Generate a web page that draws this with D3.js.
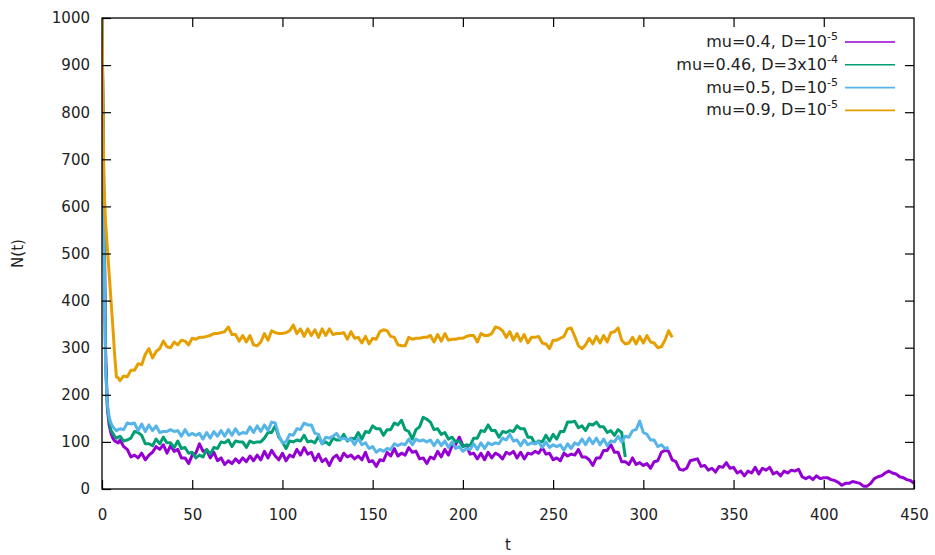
<!DOCTYPE html>
<html>
<head>
<meta charset="utf-8">
<script src="https://cdn.jsdelivr.net/npm/d3@7"></script>
<style>
  body { margin: 0; background: #fff; }
  svg { font-family: 'DejaVu Sans', sans-serif; }
</style>
</head>
<body>
<svg id="chart"></svg>
<script>
// sampling: t = 0..9 step 1 (head), then from t = 10 step 2 (body)
const headT = [0, 1, 2, 3, 4, 5, 6, 7, 8, 9];
const bodyStart = 10;
const bodyStep = 2;

const xTicks = [0, 50, 100, 150, 200, 250, 300, 350, 400, 450];
const yTicks = [0, 100, 200, 300, 400, 500, 600, 700, 800, 900, 1000];

const purpleHead = [1000, 640, 290, 170, 135, 118, 108, 102, 100, 98];
const purpleBody = [
  104,90,84,68,72,66,76,62,72,78,
  90,84,94,76,92,80,84,66,66,54,
  72,76,96,80,82,66,78,60,66,52,
  60,54,64,56,66,58,70,60,72,62,
  80,66,82,70,62,76,60,72,68,84,
  72,88,74,78,60,74,58,64,50,66,
  72,60,76,68,72,64,70,62,78,58,
  60,48,62,60,78,70,86,70,76,72,
  88,78,80,64,66,54,68,64,80,68,
  84,72,92,94,110,92,92,74,76,64,
  76,62,78,66,76,72,64,78,74,80,
  66,78,64,76,74,80,76,88,74,76,
  62,66,60,76,70,74,72,84,68,68,
  62,50,66,66,82,82,94,78,78,58,
  58,52,66,52,56,50,54,44,58,60,
  78,82,80,62,58,42,40,44,60,62,
  64,48,50,40,44,36,48,46,56,44,
  46,34,38,28,38,34,46,32,44,40,
  46,32,36,28,38,34,40,38,42,26,
  22,26,20,28,22,24,24,20,18,14,
  8,12,12,16,14,12,6,6,12,22,
  26,28,34,38,34,32,26,24,20,18,
  12
];

const greenHead = [1000, 600, 270, 175, 145, 125, 118, 112, 108, 110];
const greenBody = [
  112,102,104,108,122,120,114,96,96,92,
  106,96,110,98,98,88,102,86,88,76,
  78,66,72,68,84,74,88,86,100,98,
  104,90,102,100,100,88,102,98,100,100,
  108,120,120,134,110,100,86,102,100,104,
  102,114,100,102,98,112,96,100,94,108,
  104,104,116,102,108,106,120,106,122,120,
  134,128,128,114,126,126,140,136,146,126,
  122,106,126,132,152,148,142,126,128,116,
  120,106,110,100,102,90,94,92,108,108,
  124,122,136,124,124,110,122,120,124,122,
  134,128,128,110,110,96,102,100,114,102,
  116,106,122,122,142,142,144,130,134,124,
  138,136,142,132,132,120,124,114,126,120,
  68
];

const blueHead = [1000, 560, 250, 180, 152, 140, 132, 128, 124, 126];
const blueBody = [
  128,126,140,138,140,124,138,122,136,124,
  134,120,122,122,126,122,124,112,126,114,
  118,114,118,106,120,108,122,112,124,112,
  126,114,128,116,120,118,132,120,134,122,
  136,124,142,140,114,98,100,116,114,128,
  126,140,136,136,118,116,96,110,108,112,
  118,106,108,104,106,94,108,94,98,86,
  90,78,84,80,86,84,96,92,96,94,
  106,94,106,102,104,100,104,92,104,92,
  102,88,100,86,90,80,86,84,96,84,
  98,86,98,94,98,96,108,104,116,102,
  104,92,104,94,98,96,100,88,100,88,
  94,90,94,82,96,86,98,94,106,94,
  108,96,108,94,106,92,102,100,112,100,
  112,110,124,126,144,120,116,104,104,90,
  94,86,88
];

const orangeHead = [1000, 650, 565, 510, 455, 400, 345, 285, 238, 236];
const orangeBody = [
  230,240,238,252,252,266,264,286,298,278,
  292,298,314,302,300,312,306,316,314,306,
  320,318,322,322,324,326,330,330,332,334,
  344,328,328,314,326,312,326,306,304,312,
  330,316,336,332,330,330,332,336,348,330,
  340,324,340,326,338,322,340,326,340,328,
  330,330,332,318,334,320,322,310,324,308,
  320,318,334,338,336,324,322,306,304,304,
  322,318,320,320,322,322,326,312,328,314,
  330,316,318,318,320,320,324,326,326,312,
  330,326,326,330,344,342,336,322,334,316,
  330,314,328,310,322,322,324,310,308,298,
  316,316,320,324,340,342,324,304,298,306,
  320,308,324,310,326,312,332,334,342,316,
  308,310,322,308,324,310,326,312,310,300,
  302,316,336,322
];

const seriesNames = ['mu=0.4, D=10', 'mu=0.46, D=3x10', 'mu=0.5, D=10', 'mu=0.9, D=10'];
const seriesExp = ['-5', '-4', '-5', '-5'];
const seriesColors = ['#9400d3', '#009e73', '#56b4e9', '#e69f00'];
const seriesHeads = [purpleHead, greenHead, blueHead, orangeHead];
const seriesBodies = [purpleBody, greenBody, blueBody, orangeBody];

function toPoints(head, body) {
  const pts = head.map((n, i) => ({ t: headT[i], n: n }));
  body.forEach((n, i) => pts.push({ t: bodyStart + i * bodyStep, n: n }));
  return pts;
}

const W = 935, H = 555;
const mLeft = 102, mRight = 914, mTop = 18, mBottom = 489;

const svg = d3.select('#chart').attr('width', W).attr('height', H);

const x = d3.scaleLinear().domain([0, 450]).range([mLeft, mRight]);
const y = d3.scaleLinear().domain([0, 1000]).range([mBottom, mTop]);

svg.append('defs').append('clipPath').attr('id', 'plot')
  .append('rect')
  .attr('x', mLeft).attr('y', mTop)
  .attr('width', mRight - mLeft).attr('height', mBottom - mTop);

// lines
const line = d3.line().x(d => x(d.t)).y(d => y(d.n));
const lines = svg.append('g').attr('clip-path', 'url(#plot)');
seriesHeads.forEach((h, i) => {
  lines.append('path')
    .datum(toPoints(h, seriesBodies[i]))
    .attr('fill', 'none')
    .attr('stroke', seriesColors[i])
    .attr('stroke-width', 3)
    .attr('stroke-linejoin', 'round')
    .attr('d', line);
});

// axes, ticks inward on all four sides
const fontSize = 15;
svg.append('g')
  .attr('transform', `translate(0,${mBottom})`)
  .call(d3.axisBottom(x).tickValues(xTicks).tickSize(-9).tickPadding(20));
svg.append('g')
  .attr('transform', `translate(${mLeft},0)`)
  .call(d3.axisLeft(y).tickValues(yTicks).tickSize(-9).tickPadding(12).tickFormat(d3.format('d')));
svg.append('g')
  .attr('transform', `translate(0,${mTop})`)
  .call(d3.axisTop(x).tickValues(xTicks.slice(1, -1)).tickSize(-9).tickFormat(''));
svg.append('g')
  .attr('transform', `translate(${mRight},0)`)
  .call(d3.axisRight(y).tickValues(yTicks.slice(1, -1)).tickSize(-9).tickFormat(''));

svg.selectAll('.domain').remove();
svg.selectAll('.tick line').attr('stroke', '#000').attr('stroke-width', 1.2);
svg.selectAll('.tick text')
  .attr('fill', '#222')
  .style('font-family', "'DejaVu Sans', sans-serif")
  .style('font-size', fontSize + 'px');

// frame
svg.append('rect')
  .attr('x', mLeft).attr('y', mTop)
  .attr('width', mRight - mLeft).attr('height', mBottom - mTop)
  .attr('fill', 'none').attr('stroke', '#000').attr('stroke-width', 1.3);

// axis labels
svg.append('text')
  .attr('x', (mLeft + mRight) / 2).attr('y', 550)
  .attr('text-anchor', 'middle')
  .style('font-size', fontSize + 'px')
  .attr('fill', '#222')
  .text('t');
svg.append('text')
  .attr('transform', `translate(23,${(mTop + mBottom) / 2}) rotate(-90)`)
  .attr('text-anchor', 'middle')
  .style('font-size', fontSize + 'px')
  .attr('fill', '#222')
  .text('N(t)');

// legend
const legend = svg.append('g');
seriesNames.forEach((name, i) => {
  const ly = 42 + i * 22.8;
  const t = legend.append('text')
    .attr('x', 838).attr('y', ly + 5)
    .attr('text-anchor', 'end')
    .style('font-size', '16px')
    .attr('fill', '#222');
  t.append('tspan').text(name);
  t.append('tspan').attr('dy', -7).style('font-size', '11px').text(seriesExp[i]);
  legend.append('line')
    .attr('x1', 845).attr('x2', 895)
    .attr('y1', ly).attr('y2', ly)
    .attr('stroke', seriesColors[i])
    .attr('stroke-width', 1.6);
});
</script>
</body>
</html>
